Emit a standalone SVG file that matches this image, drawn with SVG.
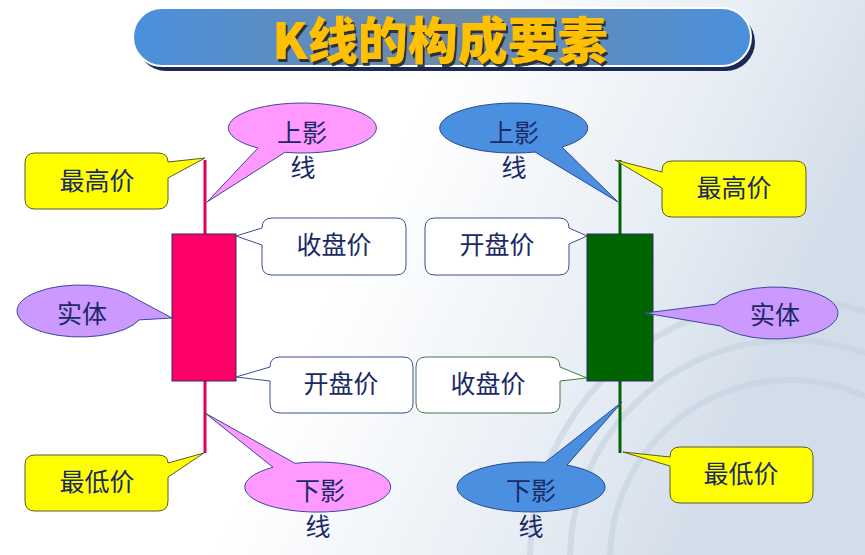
<svg xmlns="http://www.w3.org/2000/svg" width="865" height="555" viewBox="0 0 865 555">
<defs>
<linearGradient id="bg" x1="0" y1="0" x2="1" y2="0.3">
<stop offset="0" stop-color="#ffffff"/>
<stop offset="0.5" stop-color="#ffffff"/>
<stop offset="0.8" stop-color="#e8eef5"/>
<stop offset="1" stop-color="#d3dde9"/>
</linearGradient>
<linearGradient id="bar" x1="0" y1="0" x2="1" y2="0">
<stop offset="0" stop-color="#4a90dc"/>
<stop offset="0.5" stop-color="#6e89a6"/>
<stop offset="1" stop-color="#4a90dc"/>
</linearGradient>
<filter id="ts" x="-5%" y="-20%" width="115%" height="150%">
<feDropShadow dx="2" dy="3" stdDeviation="0.6" flood-color="#2a2a2a" flood-opacity="0.9"/>
</filter>
</defs>
<style>
.lbl{font-family:"Noto Sans CJK SC","Noto Sans",sans-serif;font-size:25px;fill:#1a2a66;text-anchor:middle;dominant-baseline:central}
.yel{fill:#ffff00;stroke:#5a5a30;stroke-width:1}
.wht{fill:#ffffff;stroke:#3a4f8f;stroke-width:1}
.whg{fill:#ffffff;stroke:#3f7f3f;stroke-width:1}
.pink{fill:#ff99ff;stroke:#3a4a9a;stroke-width:1}
.purp{fill:#cc99ff;stroke:#3a4a9a;stroke-width:1}
.blue{fill:#4a8fe0;stroke:#2a4a8a;stroke-width:1}
.arc{fill:none;stroke:#c5d2e0;stroke-width:6;opacity:0.6}
</style>
<rect x="0" y="0" width="865" height="555" fill="url(#bg)"/>
<g id="background-decor">
<circle class="arc" cx="790" cy="560" r="260"/>
<circle class="arc" cx="790" cy="560" r="220" stroke-width="3"/>
<circle class="arc" cx="790" cy="560" r="180" stroke-width="10" opacity="0.35"/>
</g>
<g id="title">
<rect x="137" y="13" width="618" height="58" rx="29" fill="#1b2a55"/>
<rect x="133" y="8" width="618" height="58" rx="29" fill="url(#bar)" stroke="#ffffff" stroke-width="2"/>
<text x="440" y="37" font-family="'Noto Sans CJK SC',sans-serif" font-size="50" font-weight="900" fill="#ffc000" text-anchor="middle" dominant-baseline="central" filter="url(#ts)">K线的构成要素</text>
</g>
<g id="connectors"></g>
<g id="candle-red">
<line x1="205" y1="160" x2="205" y2="234" stroke="#e0005a" stroke-width="3"/>
<line x1="205" y1="381" x2="205" y2="453" stroke="#e0005a" stroke-width="3"/>
<rect x="172" y="234" width="64" height="147" fill="#ff0066" stroke="#2a2f6a" stroke-width="1"/>
</g>
<g id="candle-green">
<line x1="620" y1="160" x2="620" y2="234" stroke="#006400" stroke-width="3"/>
<line x1="620" y1="381" x2="620" y2="453" stroke="#006400" stroke-width="3"/>
<rect x="587" y="234" width="66" height="147" fill="#006400" stroke="#2a2f6a" stroke-width="1"/>
</g>
<g id="left-high">
<path class="yel" d="M35,153 H158 Q168,153 168,162 L205,158 L168,178 V199 Q168,209 158,209 H35 Q25,209 25,199 V163 Q25,153 35,153 Z"/>
<text class="lbl" x="97" y="179">最高价</text>
</g>
<g id="left-upper-shadow">
<path class="pink" d="M258,148 A74,25 0 1 1 285,152.3 L207,202 Z"/>
<text class="lbl" x="302" y="131">上影</text>
<text class="lbl" x="303" y="166">线</text>
</g>
<g id="left-close">
<path class="wht" d="M272,218 H396 Q406,218 406,228 V265 Q406,275 396,275 H272 Q262,275 262,265 V245 L236,236 L262,228 Q262,218 272,218 Z"/>
<text class="lbl" x="334" y="243">收盘价</text>
</g>
<g id="left-body">
<path class="purp" d="M139.2,319.9 A63,26 0 1 1 134.6,298 L172,318 Z"/>
<text class="lbl" x="82" y="312">实体</text>
</g>
<g id="left-open">
<path class="wht" d="M280,357 H403 Q413,357 413,367 V403 Q413,413 403,413 H280 Q270,413 270,403 V381 L236,377 L270,367 Q270,357 280,357 Z"/>
<text class="lbl" x="341" y="382">开盘价</text>
</g>
<g id="left-low">
<path class="yel" d="M35,455 H158 Q168,455 168,463 L204,453 L168,477 V501 Q168,511 158,511 H35 Q25,511 25,501 V465 Q25,455 35,455 Z"/>
<text class="lbl" x="97" y="480">最低价</text>
</g>
<g id="left-lower-shadow">
<path class="pink" d="M295,463.3 A73,25 0 1 1 273,467.3 L205,413 Z"/>
<text class="lbl" x="320" y="489">下影</text>
<text class="lbl" x="318" y="525">线</text>
</g>
<g id="right-upper-shadow">
<path class="blue" d="M535,152 A74,25 0 1 1 562,147 L618,202 Z"/>
<text class="lbl" x="514" y="131">上影</text>
<text class="lbl" x="514" y="166">线</text>
</g>
<g id="right-high">
<path class="yel" d="M672,161 H796 Q806,161 806,171 V207 Q806,217 796,217 H672 Q662,217 662,207 V188 L615,160 L662,172 V171 Q662,161 672,161 Z"/>
<text class="lbl" x="734" y="186">最高价</text>
</g>
<g id="right-open">
<path class="wht" d="M435,218 H559 Q569,218 569,228 L587,236 L569,244 V265 Q569,275 559,275 H435 Q425,275 425,265 V228 Q425,218 435,218 Z"/>
<text class="lbl" x="497" y="243">开盘价</text>
</g>
<g id="right-body">
<path class="purp" d="M715.8,304.1 A63,26 0 1 1 720.4,326 L645,313 Z"/>
<text class="lbl" x="775" y="313">实体</text>
</g>
<g id="right-close">
<path class="whg" d="M426,357 H550 Q560,357 560,367 L587,378 L560,381 V403 Q560,413 550,413 H426 Q416,413 416,403 V367 Q416,357 426,357 Z"/>
<text class="lbl" x="488" y="382">收盘价</text>
</g>
<g id="right-low">
<path class="yel" d="M680,447 H803 Q813,447 813,457 V493 Q813,503 803,503 H680 Q670,503 670,493 V466 L623,452 L670,457 Q670,447 680,447 Z"/>
<text class="lbl" x="741" y="472">最低价</text>
</g>
<g id="right-lower-shadow">
<path class="blue" d="M567,465.1 A74,25 0 1 1 545,462.4 L622,402 Z"/>
<text class="lbl" x="531" y="489">下影</text>
<text class="lbl" x="531" y="525">线</text>
</g>
</svg>
